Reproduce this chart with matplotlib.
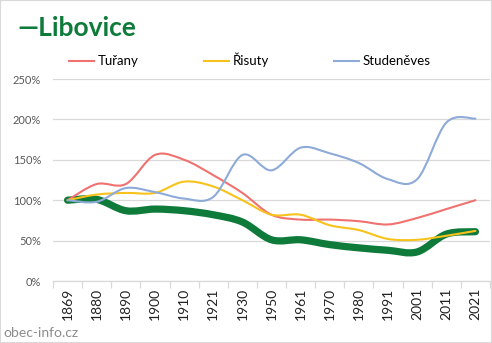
import matplotlib
matplotlib.use("Agg")
import matplotlib.pyplot as plt
from matplotlib.path import Path
from matplotlib.patches import PathPatch, Rectangle
from matplotlib.lines import Line2D
from matplotlib.ticker import FixedLocator, FuncFormatter

plt.rcParams['font.family'] = ['Lato', 'DejaVu Sans']

# census years and population relative to 1869 (in %)
years = ['1869', '1880', '1890', '1900', '1910', '1921', '1930', '1950',
         '1961', '1970', '1980', '1991', '2001', '2011', '2021']
libovice = [100, 101, 87, 89, 87, 82, 73, 51, 51, 45, 41, 38, 36, 58, 61]
turany = [100, 120, 120, 156, 150, 131, 109, 82, 76, 76, 74, 70, 78, 89, 100]
risuty = [100, 107, 109, 109, 123, 117, 100, 82, 82, 69, 63, 52, 51, 56, 62]
studeneves = [100, 98, 115, 110, 102, 104, 156, 137, 165, 158, 146, 126, 126, 196, 201]

GREEN = '#0f7b3a'
RED = '#ef7270'
YELLOW = '#f8c21c'
BLUE = '#8eaad8'


def smooth_path(xs, ys):
    # Bezier segments through every point (Catmull-Rom style tangents)
    pts = list(zip(xs, ys))
    verts = [pts[0]]
    codes = [Path.MOVETO]
    n = len(pts)
    for i in range(n - 1):
        p0 = pts[max(i - 1, 0)]
        p1 = pts[i]
        p2 = pts[i + 1]
        p3 = pts[min(i + 2, n - 1)]
        c1 = (p1[0] + (p2[0] - p0[0]) / 6, p1[1] + (p2[1] - p0[1]) / 6)
        c2 = (p2[0] - (p3[0] - p1[0]) / 6, p2[1] - (p3[1] - p1[1]) / 6)
        verts += [c1, c2, p2]
        codes += [Path.CURVE4] * 3
    return Path(verts, codes)


fig = plt.figure(figsize=(4.92, 3.43), dpi=100)
ax = fig.add_axes([53 / 492, 1 - 281 / 343, 437 / 492, 202 / 343])

x = list(range(len(years)))
series = [
    (libovice, GREEN, 5.2, 2),
    (turany, RED, 1.5, 3),
    (risuty, YELLOW, 1.5, 3),
    (studeneves, BLUE, 1.5, 3),
]
for vals, color, lw, z in series:
    patch = PathPatch(smooth_path(x, vals), facecolor='none', edgecolor=color,
                      lw=lw, capstyle='round', joinstyle='round', zorder=z)
    ax.add_patch(patch)

ax.set_xlim(-0.5, len(years) - 0.5)
ax.set_ylim(0, 250)
ax.set_yticks([0, 50, 100, 150, 200, 250])
ax.yaxis.set_major_formatter(FuncFormatter(lambda v, _: f'{v:.0f}%'))
ax.grid(axis='y', color='#d9d9d9', lw=0.9)
ax.set_axisbelow(True)

ax.set_xticks(x)
ax.set_xticklabels(years, rotation=90, fontsize=10, color='#222222')
ax.xaxis.set_minor_locator(FixedLocator([i - 0.5 for i in range(len(years) + 1)]))
ax.tick_params(axis='x', which='major', length=0, pad=5)
ax.tick_params(axis='x', which='minor', length=5, color='#d9d9d9', width=0.9)
ax.tick_params(axis='y', length=0, labelsize=8, labelcolor='#595959', pad=8.5)

for side in ['left', 'right', 'top']:
    ax.spines[side].set_visible(False)
ax.spines['bottom'].set_color('#d9d9d9')
ax.spines['bottom'].set_linewidth(0.9)

# title with the series marker
fig.text(17 / 492, 1 - 28 / 343, '\u2014Libovice', fontsize=19, fontweight='bold',
         color=GREEN, va='center', ha='left')

handles = [Line2D([], [], color=c, lw=1.5) for c in (RED, YELLOW, BLUE)]
fig.legend(handles, ['Tuřany', 'Řisuty', 'Studeněves'], loc='center',
           bbox_to_anchor=(250 / 492, 1 - 60 / 343), ncol=3, frameon=False,
           fontsize=9.5, handlelength=1.9, handletextpad=0.3, columnspacing=4.9)

fig.text(3 / 492, 1 - 333 / 343, 'obec-info.cz', fontsize=10, color='#8c8c8c',
         va='center', ha='left')

fig.add_artist(Rectangle((0, 0), 1, 1, transform=fig.transFigure, fill=False,
                         edgecolor='#d9d9d9', lw=1.5))

fig.savefig('out.png', dpi=100)
